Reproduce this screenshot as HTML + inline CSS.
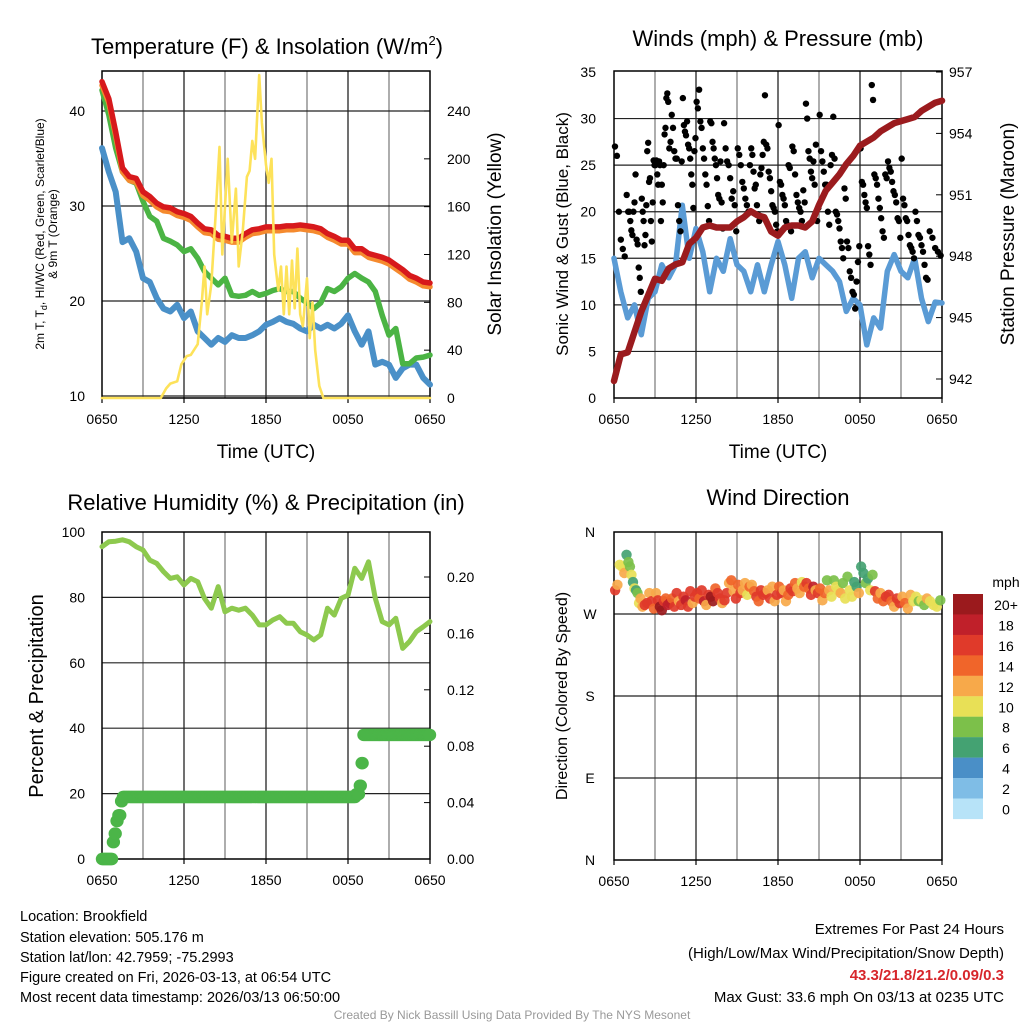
<!DOCTYPE html>
<html><head><meta charset="utf-8"><title>Mesonet Station Meteogram</title>
<style>
html,body{margin:0;padding:0;background:#fff;}
svg{display:block;font-family:"Liberation Sans",Arial,sans-serif;}
</style></head>
<body>
<svg id="chart" xmlns="http://www.w3.org/2000/svg" width="1024" height="1024" viewBox="0 0 1024 1024">
<rect width="1024" height="1024" fill="#fff"/>
<text x="267" y="54" font-size="22" text-anchor="middle">Temperature (F) &amp; Insolation (W/m<tspan font-size="13" dy="-9">2</tspan><tspan dy="9">)</tspan></text>
<text x="778" y="46" font-size="22" text-anchor="middle">Winds (mph) &amp; Pressure (mb)</text>
<text x="266" y="510" font-size="22" text-anchor="middle">Relative Humidity (%) &amp; Precipitation (in)</text>
<text x="778" y="505" font-size="22" text-anchor="middle">Wind Direction</text>
<text transform="translate(44,234) rotate(-90)" font-size="12" text-anchor="middle">2m T, T<tspan font-size="9" dy="3">d</tspan><tspan dy="-3">, HI/WC (Red, Green, Scarlet/Blue)</tspan></text>
<text transform="translate(57,234) rotate(-90)" font-size="12" text-anchor="middle">&amp; 9m T (Orange)</text>
<text transform="translate(501,234) rotate(-90)" font-size="19" text-anchor="middle">Solar Insolation (Yellow)</text>
<text transform="translate(568,234) rotate(-90)" font-size="17" text-anchor="middle">Sonic Wind &amp; Gust (Blue, Black)</text>
<text transform="translate(1014,234) rotate(-90)" font-size="19" text-anchor="middle">Station Pressure (Maroon)</text>
<text transform="translate(43,696) rotate(-90)" font-size="20" text-anchor="middle">Percent &amp; Precipitation</text>
<text transform="translate(567,696) rotate(-90)" font-size="16" text-anchor="middle">Direction (Colored By Speed)</text>
<text x="266" y="458" font-size="19" text-anchor="middle">Time (UTC)</text>
<text x="778" y="458" font-size="19" text-anchor="middle">Time (UTC)</text>
<g font-size="14.5">
<text x="20" y="921">Location: Brookfield</text>
<text x="20" y="942">Station elevation: 505.176 m</text>
<text x="20" y="962">Station lat/lon: 42.7959; -75.2993</text>
<text x="20" y="982">Figure created on Fri, 2026-03-13, at 06:54 UTC</text>
<text x="20" y="1002">Most recent data timestamp: 2026/03/13 06:50:00</text>
</g>
<g font-size="15" text-anchor="end">
<text x="1004" y="934">Extremes For Past 24 Hours</text>
<text x="1004" y="958">(High/Low/Max Wind/Precipitation/Snow Depth)</text>
<text x="1004" y="980" fill="#d7262b" font-weight="bold">43.3/21.8/21.2/0.09/0.3</text>
<text x="1004" y="1002">Max Gust: 33.6 mph On 03/13 at 0235 UTC</text>
</g>
<text x="512" y="1019" font-size="12" fill="#999" text-anchor="middle">Created By Nick Bassill Using Data Provided By The NYS Mesonet</text>
<g id="layer"></g>
</svg>
<script>
const timeLabels = ["0650","1250","1850","0050","0650"];
const timeTickHours = [0,6,12,18,24];
const halfHourStep = 0.5;
const tempRed = [43.1,41.3,37.8,34.0,33.1,32.9,31.5,31.0,30.3,29.9,29.8,29.4,29.2,28.9,28.2,27.6,27.5,26.9,26.8,26.6,26.6,27.1,27.5,27.6,27.8,27.8,27.8,27.9,27.9,28.0,27.9,27.8,27.6,27.1,26.8,26.4,26.4,25.5,25.5,25.0,24.8,24.6,24.3,23.8,23.3,22.7,22.4,22.0,21.9];
const tempOrange = [42.7,40.9,37.4,33.6,32.7,32.5,31.1,30.6,29.9,29.5,29.4,29.0,28.8,28.5,27.8,27.2,27.1,26.5,26.4,26.2,26.2,26.7,27.1,27.2,27.4,27.4,27.4,27.5,27.5,27.6,27.5,27.4,27.2,26.7,26.4,26.0,26.0,25.1,25.1,24.6,24.4,24.2,23.9,23.4,22.9,22.3,22.0,21.6,21.5];
const tempGreen = [42.2,39.6,36.1,33.6,32.7,32.4,30.5,28.9,28.4,26.6,26.3,25.9,25.2,25.5,24.5,23.1,22.4,21.7,22.4,20.6,20.5,20.6,21.0,20.6,20.8,21.1,21.3,21.0,21.0,20.3,19.8,19.2,19.8,21.3,21.0,21.5,22.4,22.9,22.4,22.0,21.0,18.5,16.4,17.1,13.4,13.4,14.0,14.1,14.3];
const tempBlue = [36.1,33.6,31.5,26.2,26.6,25.2,22.4,22.0,20.3,19.2,18.9,19.6,18.2,18.9,16.8,16.1,15.4,16.1,15.7,16.4,16.1,16.1,16.4,16.8,17.5,17.8,18.2,17.8,17.6,17.1,16.8,17.5,17.1,17.5,17.1,17.6,18.5,16.8,15.4,16.8,13.3,13.6,13.3,11.9,12.9,13.3,13.3,11.9,11.2];
const solarHours = [0,4.3,4.7,5,5.5,5.8,6.2,6.5,7,7.3,7.5,7.7,8,8.3,8.6,8.8,9,9.2,9.5,9.8,10,10.3,10.6,10.8,11,11.2,11.5,11.7,12,12.2,12.4,12.6,12.9,13.1,13.3,13.5,13.7,13.9,14.1,14.3,14.5,14.7,15,15.2,15.4,15.6,15.9,16.2,24];
const solarValues = [0,0,8,12,14,28,35,36,45,80,110,70,95,150,210,120,160,200,130,175,110,140,185,190,215,200,270,230,195,180,200,120,90,110,70,110,70,115,75,125,70,60,100,50,80,40,10,0,0];
const windSpeed = [15.0,11.4,8.6,10.0,6.8,10.7,11.4,14.3,12.9,14.3,20.7,15.0,18.2,15.7,11.4,15.0,13.6,17.1,14.3,13.6,11.4,14.3,11.4,14.3,16.8,14.3,10.7,15.0,15.7,12.9,15.0,14.3,13.6,12.5,9.3,10.7,10.0,5.7,8.6,7.5,13.6,15.4,13.6,12.9,15.0,10.7,8.2,10.3,10.2];
const pressure = [941.9,943.2,943.3,944.3,945.3,946.1,946.9,946.8,947.4,947.6,947.7,948.6,948.9,949.4,949.5,949.4,949.4,949.4,949.7,949.9,950.2,950.0,949.9,949.2,949.0,949.4,949.5,949.5,949.4,949.7,950.5,951.2,951.6,952.0,952.5,952.9,953.4,953.6,953.8,954.1,954.3,954.5,954.6,954.7,954.8,955.1,955.3,955.5,955.6];
const gustByHour = [
 [27,26,20,17,16,15.2,21.8],
 [20,20,19,18,17.5,20,21,24,17,16.5,14,12.9,11.4],
 [21.4,20,19,16.4,17.5,20.7,26.5,27.4,23.2,23.6,19,16.8,21,25.5,25],
 [25,25.5,24,22.9,25.4,25,19,22.9,21,25,28.3,29,32.2,32.7,31.8],
 [26.8,27.5,30.4,29,26.5,25.7,25.7,20.7,19,17.9,25.4],
 [32.2,29.3,28.6,28.2,29.7,27.2,26.8,25.7,24,22.9,20.4,26.5,27.9],
 [31.8,31.1,33.1,29.7,29,26.8,25.7,24,22.9,20.6,19],
 [29.7,29.5,27.5,26.8,25.7,25,23.6,21.8,21.4,25.4,21,18.2],
 [29.5,26.8,25.4,25,23.6,21.4,22.2,20.7,17.9],
 [26.8,26.1,25,23.2,22.5,21.4,20.7,20,25],
 [26.8,26.1,24.3,22.5,22.9,20.7,19.7,19,24,24.7,26.1,27.5],
 [32.5,27.2,26.8,24.3,23.6,22.2,20.7,20.4,20,18.6,17.9],
 [29.3,23.2,22.9,21.8,21.4,20.7,19,18.6,25,24.7,17.9],
 [27,26.5,24,21.8,21,20.4,20,19,22.3,21],
 [31.6,30,26.5,25.7,24.3,23.6,25.4,22.9,27.2,19,20.4],
 [30.4,26.5,25.4,24.3,22.9,22.9,20,18.6,25,26.1],
 [30.2,25.7,20,19.7,19,18.2,16.8,16.1,15,22.5,21.4],
 [16.8,16.1,13.6,12.9,11.4,11.1,9.6,12.5,14.6,16.3],
 [26.8,23.2,22.9,21.8,21,20.4,16.3,15.4,14.3,33.6,32],
 [24,23.6,22.9,21.4,20.4,19.3,17.9,17.2,24,23.6],
 [25.4,24.7,24.3,23.2,22.2,21.8,21,19.3,19,17.2],
 [25.7,21.4,20.7,19.3,19,17.5,16.4,16.1,15.7,15],
 [20,19,17.5,17.2,16.4,15.7,14.3,12.9,12.7],
 [17.9,17.2,16.1,15.7,15.3]
];
const relHumidity = [95.5,97.0,97.2,97.6,97.0,95.5,94.5,91.4,90.4,87.9,85.8,86.3,83.8,85.8,84.8,79.7,76.7,83.3,75.6,76.7,76.1,76.7,74.6,71.6,71.6,73.1,74.1,72.1,72.1,69.5,68.5,67.0,68.5,76.7,74.6,79.7,80.7,88.9,85.8,90.9,79.7,72.6,71.6,73.6,64.4,66.5,69.5,71.0,72.6];
const precipObsHours = [0,0.75,0.9,1.05,1.2,1.35,1.5,18.6,18.85,19.0,19.1];
const precipObsValues = [0,0.012,0.018,0.027,0.031,0.041,0.044,0.046,0.052,0.068,0.088];
const dirByHour = [[296,302,324,322,315,335],[327,322,313,305,298,296,293,282,287],[278,280,282,293,284,276],[293,285,278,274,284,287,280],[282,287,278,293,284,280],[289,285,278,295,282,289],[293,287,296,284,280,291],[289,284,298,293,287,282],[285,293,304,307,295,287],[302,293,296,304,291,300],[302,295,289,284,296,291],[293,296,287,300,284,291],[300,293,296,284,291,298],[295,304,298,293,305,300],[304,298,291,300,296,293],[298,285,293,307,296,289],[307,300,296,293,304,287],[311,296,289,305,300,293],[322,315,304,309,296,313],[295,287,293,284,289],[291,284,278,287,282],[289,282,276,291,284],[289,284,285,280,287],[284,280,278,285]];
const spdByHour = [[16,12,10,10,12,6],[8,8,10,7,10,6,8,10,12],[12,16,17,13,16,14],[12,17,20,21,16,14,18],[18,14,17,16,13,16],[17,19,17,16,12,16],[16,14,17,18,12,16],[20,20,14,17,17,12],[16,17,12,14,13,16],[14,16,12,13,11,14],[13,14,16,14,16,17],[16,13,17,12,12,16],[14,16,13,12,14,16],[16,14,13,12,10,14],[17,14,16,18,13,16],[14,12,14,8,13,10],[8,10,11,13,8,10],[8,10,10,6,7,12],[6,7,8,6,10,8],[16,14,13,14,17],[16,14,12,16,17],[13,14,12,12,10],[10,8,10,8,12],[10,10,10,8]];
const speedBinLabels = ["20+","18","16","14","12","10","8","6","4","2","0"];
const speedColors = ["#b7e3f8","#7fbde6","#4a8fc7","#44a272","#7cc04a","#e8e056","#f7a94a","#f0652a","#e03a2a","#c0202a","#9b1a1d"];
const tempTicks = [10,20,30,40];
const solarTicks = [0,40,80,120,160,200,240];
const windTicks = [0,5,10,15,20,25,30,35];
const presTicks = [942,945,948,951,954,957];
const rhTicks = [0,20,40,60,80,100];
const precipTicks = [0,0.04,0.08,0.12,0.16,0.20];
const dirTickLabels = ["N","E","S","W","N"];
const dirTickDeg = [0,90,180,270,360];

const NS = "http://www.w3.org/2000/svg";
const layer = document.getElementById("layer");
function mk(tag, attrs, parent){
  const el = document.createElementNS(NS, tag);
  for (const k in attrs) el.setAttribute(k, attrs[k]);
  (parent || layer).appendChild(el);
  return el;
}
function group(name){
  const g = mk("g", {});
  
  
  return g;
}
function label(parent, x, y, s, anchor, size, name){
  const t = mk("text", {x:x, y:y, "font-size":size||14, "text-anchor":anchor||"middle"}, parent);
  
  
  t.textContent = s;
  return t;
}
function lin(d0, d1, r0, r1){ return v => r0 + (v - d0) * (r1 - r0) / (d1 - d0); }
function linePath(parent, xs, ys, color, width, name){
  let d = "";
  for (let i = 0; i < xs.length; i++) d += (i ? "L" : "M") + xs[i].toFixed(1) + " " + ys[i].toFixed(1);
  const p = mk("path", {d:d, fill:"none", stroke:color, "stroke-width":width, "stroke-linejoin":"round", "stroke-linecap":"round"}, parent);
  
  
  return p;
}
function frame(parent, x0, y0, x1, y1, hLines, xScale, name){
  for (let h = 3; h < 24; h += 3){
    const x = xScale(h);
    mk("line", {x1:x, y1:y0, x2:x, y2:y1, stroke:(h % 6 ? "#777" : "#111"), "stroke-width":1.2}, parent);
  }
  hLines.forEach(y => mk("line", {x1:x0, y1:y, x2:x1, y2:y, stroke:"#222", "stroke-width":1.2}, parent));
  const r = mk("rect", {x:x0, y:y0, width:x1-x0, height:y1-y0, fill:"none", stroke:"#000", "stroke-width":1.5}, parent);
  
  
  timeTickHours.forEach((h, i) => {
    const x = xScale(h);
    mk("line", {x1:x, y1:y1, x2:x, y2:y1+5, stroke:"#000", "stroke-width":1.2}, parent);
    label(parent, x, y1 + 26, timeLabels[i], "middle", 14, "x-tick-label");
  });
}
const halfHours = relHumidity.map((_, i) => i * halfHourStep);

(function(){
  const g = group("temperature-panel");
  const x = lin(0, 24, 102, 430);
  const yT = lin(10, 40, 396, 111);
  const yS = lin(0, 240, 398, 111);
  frame(g, 102, 71, 430, 398, tempTicks.map(yT), x, "temperature-plot-frame");
  tempTicks.forEach(v => label(g, 85, yT(v) + 5, String(v), "end", 14, "temp-y-tick"));
  solarTicks.forEach(v => {
    mk("line", {x1:430, y1:yS(v), x2:424, y2:yS(v), stroke:"#000"}, g);
    label(g, 447, yS(v) + 5, String(v), "start", 14, "solar-y-tick");
  });
  const xs = halfHours.map(x);
  linePath(g, xs, tempBlue.map(yT), "#4a90c8", 6, "series-heat-index-blue");
  linePath(g, xs, tempGreen.map(yT), "#4bb444", 5.5, "series-dewpoint-green");
  linePath(g, xs, tempOrange.map(yT), "#f58a2e", 5.5, "series-9m-temp-orange");
  linePath(g, xs, tempRed.map(yT), "#d7191c", 5.5, "series-2m-temp-red");
  linePath(g, solarHours.map(x), solarValues.map(yS), "#fde25a", 2.6, "series-solar-insolation");
})();

(function(){
  const g = group("winds-panel");
  const x = lin(0, 24, 614, 942);
  const yW = lin(0, 35, 398, 72);
  const yP = lin(942, 957, 379, 72);
  frame(g, 614, 71, 942, 398, windTicks.slice(1, 7).map(yW), x, "winds-plot-frame");
  windTicks.forEach(v => label(g, 596, yW(v) + 5, String(v), "end", 14, "wind-y-tick"));
  presTicks.forEach(v => {
    mk("line", {x1:942, y1:yP(v), x2:936, y2:yP(v), stroke:"#000"}, g);
    label(g, 949, yP(v) + 5, String(v), "start", 14, "pressure-y-tick");
  });
  linePath(g, halfHours.map(x), windSpeed.map(yW), "#5a9bd5", 5.5, "series-sonic-wind");
  gustByHour.forEach((arr, h) => {
    arr.forEach((v, i) => {
      const c = mk("circle", {cx:x(h + (i + 0.5) / arr.length), cy:yW(v), r:3.2, fill:"#000"}, g);
      
      
    });
  });
  linePath(g, halfHours.map(x), pressure.map(yP), "#9b1b1e", 6.5, "series-station-pressure");
})();

(function(){
  const g = group("humidity-panel");
  const x = lin(0, 24, 102, 430);
  const yR = lin(0, 100, 859, 532);
  const yP = lin(0, 0.20, 859, 577);
  frame(g, 102, 532, 430, 859, rhTicks.slice(1, 5).map(yR), x, "humidity-plot-frame");
  rhTicks.forEach(v => label(g, 85, yR(v) + 5, String(v), "end", 14, "rh-y-tick"));
  precipTicks.forEach(v => {
    mk("line", {x1:430, y1:yP(v), x2:424, y2:yP(v), stroke:"#000"}, g);
    label(g, 447, yP(v) + 5, v.toFixed(2), "start", 14, "precip-y-tick");
  });
  linePath(g, halfHours.map(x), relHumidity.map(yR), "#8dc94e", 5, "series-relative-humidity");
  function precipAt(h){
    let v = precipObsValues[0];
    for (let i = 0; i < precipObsHours.length; i++) if (precipObsHours[i] <= h) v = precipObsValues[i];
    return v;
  }
  for (let m = 0; m <= 24 * 60; m += 4){
    const h = m / 60;
    const c = mk("circle", {cx:x(h), cy:yP(precipAt(h)), r:6.2, fill:"#4bb548"}, g);
    
    
  }
})();

(function(){
  const g = group("wind-direction-panel");
  const x = lin(0, 24, 614, 942);
  const y = lin(0, 360, 860, 532);
  frame(g, 614, 532, 942, 860, [90, 180, 270].map(y), x, "direction-plot-frame");
  dirTickDeg.forEach((d, i) => label(g, 590, y(d) + 5, dirTickLabels[i], "middle", 14, "direction-y-tick"));
  dirByHour.forEach((arr, h) => {
    arr.forEach((d, i) => {
      const s = spdByHour[h][i];
      const bin = Math.min(10, Math.floor(s / 2));
      const c = mk("circle", {cx:x(h + (i + 0.5) / arr.length), cy:y(d), r:5.2, fill:speedColors[bin], "fill-opacity":0.92}, g);
      
      
    });
  });
  const cb = group("speed-colorbar");
  label(cb, 1006, 587, "mph", "middle", 14, "colorbar-unit");
  speedBinLabels.forEach((lab, i) => {
    const top = 594 + i * 20.45;
    const r = mk("rect", {x:953, y:top, width:30, height:20.6, fill:speedColors[10 - i]}, cb);
    
    
    label(cb, 1006, top + 16, lab, "middle", 14, "colorbar-label");
  });
})();
</script>
</body></html>
